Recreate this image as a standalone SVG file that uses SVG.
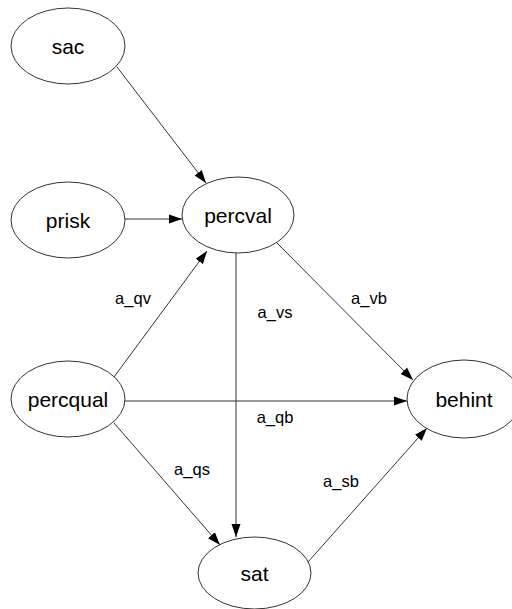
<svg xmlns="http://www.w3.org/2000/svg" width="512" height="609" viewBox="0 0 512 609">
<defs>
<marker id="arr" markerUnits="userSpaceOnUse" markerWidth="14" markerHeight="11" refX="13" refY="5" orient="auto">
<path d="M0,0.5 L13,5 L0,9.5 Z" fill="#000"/>
</marker>
<style>
.node ellipse{fill:#fff;stroke:#333;stroke-width:1}
.node text{font-family:"Liberation Sans",Arial,sans-serif;font-size:21px;fill:#000;text-anchor:middle}
.edge line{stroke:#333;stroke-width:1;marker-end:url(#arr)}
.lbl{font-family:"Liberation Sans",Arial,sans-serif;font-size:16.5px;fill:#000;text-anchor:middle}
</style>
</defs>
<rect width="512" height="609" fill="#fff"/>
<g id="connectors" class="edge">
<line x1="117" y1="67" x2="206" y2="183"/>
<line x1="125" y1="219" x2="182" y2="219"/>
<line x1="114" y1="377" x2="207" y2="251"/>
<line x1="125" y1="401" x2="407" y2="401"/>
<line x1="114" y1="423" x2="220" y2="545"/>
<line x1="236" y1="253" x2="236" y2="537"/>
<line x1="277" y1="243" x2="413" y2="380"/>
<line x1="308" y1="562" x2="427" y2="428"/>
</g>
<g id="labels">
<text class="lbl" x="133" y="304">a_qv</text>
<text class="lbl" x="275" y="318">a_vs</text>
<text class="lbl" x="369" y="304">a_vb</text>
<text class="lbl" x="275" y="423">a_qb</text>
<text class="lbl" x="192" y="475">a_qs</text>
<text class="lbl" x="341" y="487">a_sb</text>
</g>
<g id="sac" class="node"><ellipse cx="68" cy="46" rx="57" ry="38"/><text x="68" y="53.5">sac</text></g>
<g id="prisk" class="node"><ellipse cx="68" cy="220" rx="57" ry="38"/><text x="68" y="227.5">prisk</text></g>
<g id="percval" class="node"><ellipse cx="238" cy="215" rx="56" ry="38"/><text x="238" y="222.5">percval</text></g>
<g id="percqual" class="node"><ellipse cx="68" cy="399" rx="57" ry="38"/><text x="68" y="406.5">percqual</text></g>
<g id="behint" class="node"><ellipse cx="464" cy="399" rx="57" ry="39"/><text x="464" y="406.5">behint</text></g>
<g id="sat" class="node"><ellipse cx="254.5" cy="573" rx="56.5" ry="36"/><text x="254.5" y="580.5">sat</text></g>
</svg>
